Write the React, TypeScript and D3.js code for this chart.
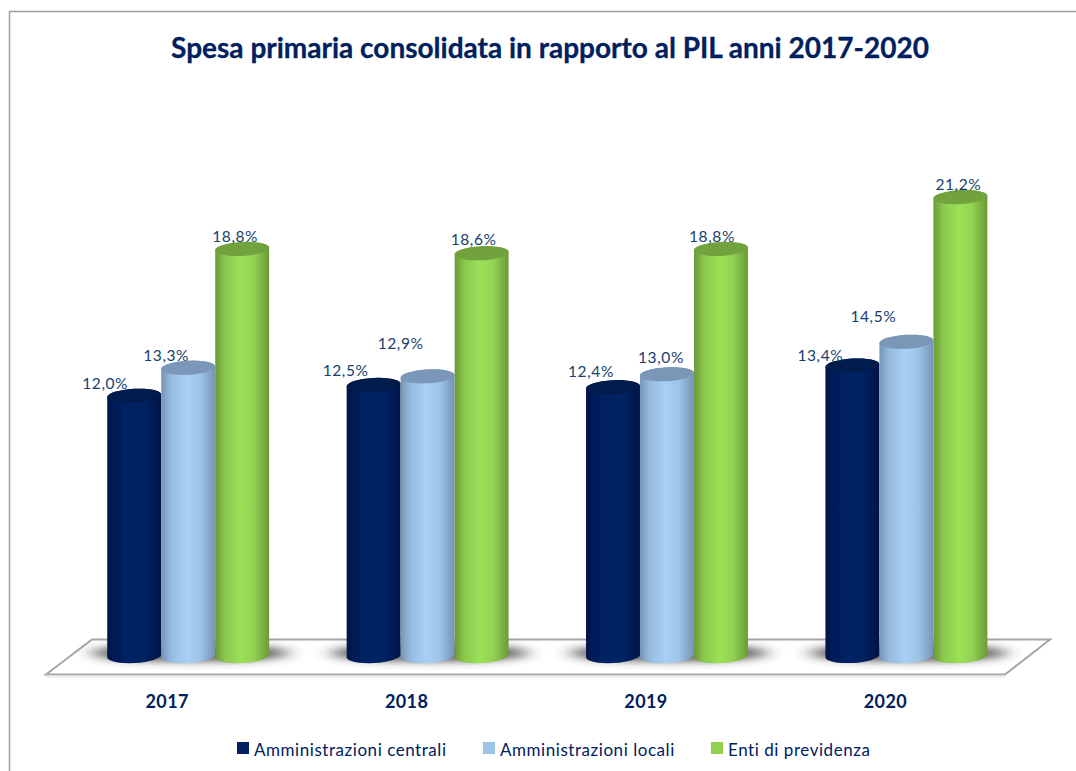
import React from "react";
import * as d3 from "d3";

const title = "Spesa primaria consolidata in rapporto al PIL anni 2017-2020";
const years = ["2017", "2018", "2019", "2020"];
const seriesNames = ["Amministrazioni centrali", "Amministrazioni locali", "Enti di previdenza"];
const centrali = [12.0, 12.5, 12.4, 13.4];
const locali = [13.3, 12.9, 13.0, 14.5];
const previdenza = [18.8, 18.6, 18.8, 21.2];
const seriesValues = [centrali, locali, previdenza];

// hand-placed label nudges [dx, dy] from each bar's top, by series then year
const labelNudges = [
  [[-29, -7], [-28, -9], [-22, -10], [-32, -5]],
  [[-22, -7], [-27, -27], [-6, -11], [-33, -20]],
  [[-7, -7], [-8, -8], [-9, -7], [-2, -7]],
];

const palettes = [
  { edge: "#001547", mid: "#002366", top: "#001a4e", key: "#002060" },
  { edge: "#7594b5", mid: "#a8d0f5", top: "#7a97b7", key: "#9dc3e6" },
  { edge: "#6a9a38", mid: "#9ce058", top: "#72a23e", key: "#92d050" },
];

const textBlue = "#002060";
const labelBlue = "#17406f";
const fontFamily = "Lato, Carlito, 'Noto Sans', sans-serif";

const x0 = d3.scaleBand<string>().domain(years).range([68.5, 1026.1]);
const x1 = d3.scaleBand<number>().domain([0, 1, 2]).range([-81, 81]);
const y = d3.scaleLinear().domain([0, 25]).range([655, 655 - 25 * 21.6]);
const fmt = (v: number) => v.toFixed(1).replace(".", ",") + "%";

const RY = 7;
const TILT = -3;
const YEAR_DX = -21;
const BASE_DROP = 1;

function cylinderPath(cx: number, rx: number, top: number, bottom: number) {
  const s = Math.sin((TILT * Math.PI) / 180) * rx;
  const c = Math.cos((TILT * Math.PI) / 180) * rx;
  const arc = `A${rx},${RY} ${TILT} 0 0 ${cx + c},${bottom + s}`;
  return `M${cx - c},${top - s}L${cx - c},${bottom - s}${arc}L${cx + c},${top + s}A${rx},${RY} ${TILT} 0 0 ${cx - c},${top - s}Z`;
}

export default function App() {
  const bw = x1.bandwidth();
  const legendX = [237, 483, 711];
  return (
    <svg
      width={1076}
      height={771}
      style={{ position: "absolute", left: 0, top: 0, background: "#fff" }}
      fontFamily={fontFamily}
    >
      <defs>
        {palettes.map((p, i) => (
          <linearGradient key={i} id={`cyl${i}`} x1="0" x2="1" y1="0" y2="0">
            <stop offset="0" stopColor={p.edge} />
            <stop offset="0.18" stopColor={d3.interpolateRgb(p.edge, p.mid)(0.65)} />
            <stop offset="0.48" stopColor={p.mid} />
            <stop offset="0.72" stopColor={d3.interpolateRgb(p.edge, p.mid)(0.8)} />
            <stop offset="1" stopColor={p.edge} />
          </linearGradient>
        ))}
        <filter id="soft" x="-30%" y="-150%" width="160%" height="400%">
          <feGaussianBlur stdDeviation="9 4" />
        </filter>
        <filter id="edgeBlur" x="-5%" y="-5%" width="110%" height="110%">
          <feGaussianBlur stdDeviation="0.6" />
        </filter>
      </defs>

      <path d="M9.5,771V11.5H1076" fill="none" stroke="#a0a0a0" strokeWidth={1.5} />

      <text x={550} y={58} textAnchor="middle" fontSize={28} fontWeight={700} fill={textBlue} stroke={textBlue} strokeWidth={0.3}>
        {title}
      </text>

      <path d="M46,674.5L92,639.5H1050L1005,674.5Z" fill="#fff" stroke="#a6a6a6" strokeWidth={2} />
      <path d="M46,676.5H1005" fill="none" stroke="#ececec" strokeWidth={2} />

      {years.map((yr) => (
        <ellipse
          key={yr}
          cx={(x0(yr) ?? 0) + x0.bandwidth() / 2 + 2}
          cy={653}
          rx={100}
          ry={8}
          fill="#333"
          opacity={0.85}
          filter="url(#soft)"
        />
      ))}

      {years.map((yr, j) => {
        const g = (x0(yr) ?? 0) + x0.bandwidth() / 2;
        return (
          <g key={yr}>
            {seriesValues.map((vals, i) => {
              const cx = g + (x1(i) ?? 0) + bw / 2;
              const top = y(vals[j]);
              return (
                <g key={i} filter="url(#edgeBlur)">
                  <path d={cylinderPath(cx, bw / 2, top, y(0) + BASE_DROP)} fill={`url(#cyl${i})`} />
                  <ellipse
                    cx={cx}
                    cy={top}
                    rx={bw / 2}
                    ry={RY}
                    fill={palettes[i].top}
                    transform={`rotate(${TILT} ${cx} ${top})`}
                  />
                </g>
              );
            })}
            {seriesValues.map((vals, i) => {
              const cx = g + (x1(i) ?? 0) + bw / 2;
              const [dx, dy] = labelNudges[i][j];
              return (
                <text
                  key={i}
                  x={cx + dx}
                  y={y(vals[j]) + dy}
                  textAnchor="middle"
                  fontSize={15.5}
                  letterSpacing={0.6}
                  fill={labelBlue}
                >
                  {fmt(vals[j])}
                </text>
              );
            })}
            <text x={g + YEAR_DX} y={708} textAnchor="middle" fontSize={18} fontWeight={700} letterSpacing={0.4} fill={textBlue}>
              {yr}
            </text>
          </g>
        );
      })}

      {seriesNames.map((name, i) => (
        <g key={name}>
          <rect x={legendX[i]} y={742} width={12} height={12} fill={palettes[i].key} />
          <text x={legendX[i] + 17} y={756} fontSize={17} letterSpacing={0.55} fill={textBlue}>
            {name}
          </text>
        </g>
      ))}
    </svg>
  );
}
